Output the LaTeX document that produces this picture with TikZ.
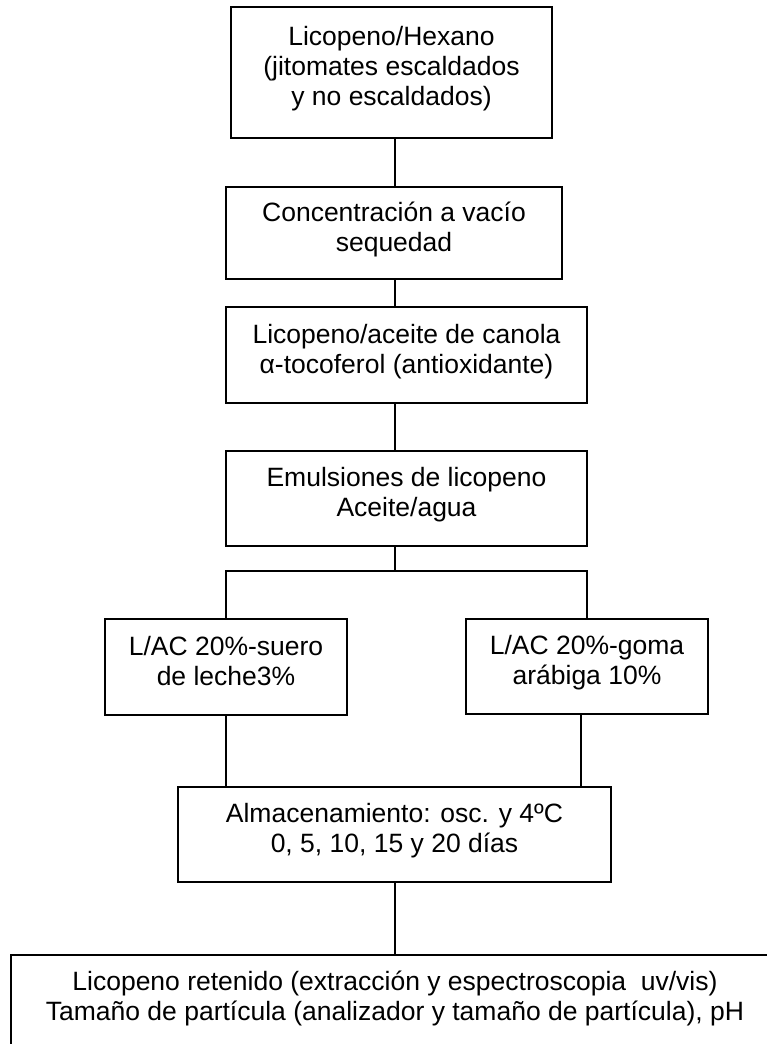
\documentclass[tikz,border=0pt]{standalone}
\usepackage{fontspec}
\setmainfont{Liberation Sans}
% every text row gets the same fixed height/depth so rows sit 30pt apart
\newcommand{\rowstrut}{\rule[-12pt]{0pt}{30pt}}
\newcommand{\rowtext}[1]{\rowstrut\smash{#1}}
\begin{document}
\begin{tikzpicture}[x=1pt,y=-1pt,
  stepbox/.style={draw, line width=1.5pt, inner sep=0pt, align=center,
    font=\fontsize{26.5}{30}\selectfont},
  link/.style={line width=1.2pt}]
\useasboundingbox (0,0) rectangle (767,1044);
\fill[white] (0,0) rectangle (767,1044);
\clip (0,0) rectangle (767,1044);

% guide coordinates for the vertical connectors
\coordinate (spine) at (395,0);
\coordinate (split) at (395,571);
\coordinate (rdrop) at (581,0);

\node[stepbox, minimum width=321pt, minimum height=131pt] (b1) at (391.5,72.5)
  {\rowtext{Licopeno/Hexano}\\ \rowtext{(jitomates escaldados}\\ \rowtext{y no escaldados)}};
\node[stepbox, minimum width=336pt, minimum height=92pt] (b2) at (394,233)
  {\rowtext{Concentración a vacío}\\ \rowtext{sequedad}};
\node[stepbox, minimum width=361pt, minimum height=96pt] (b3) at (406.5,355)
  {\rowtext{Licopeno/aceite de canola}\\ \rowtext{α-tocoferol (antioxidante)}};
\node[stepbox, minimum width=361pt, minimum height=95pt] (b4) at (406.5,498.5)
  {\rowtext{Emulsiones de licopeno}\\ \rowtext{Aceite/agua}};
\node[stepbox, minimum width=242pt, minimum height=96pt] (b5l) at (226,667)
  {\rowtext{L/AC 20\%-suero}\\ \rowtext{de leche3\%}};
\node[stepbox, minimum width=242pt, minimum height=95pt] (b5r) at (587,666.5)
  {\rowtext{L/AC 20\%-goma}\\ \rowtext{arábiga 10\%}};
\node[stepbox, minimum width=433pt, minimum height=95pt] (b6) at (394.5,834.5)
  {\rowtext{Almacenamiento: osc. y 4ºC}\\ \rowtext{0, 5, 10, 15 y 20 días}};
\node[stepbox, minimum width=768pt, minimum height=94pt] (b7) at (395,1002)
  {\rowtext{Licopeno retenido (extracción y espectroscopia~ uv/vis)}\\
   \rowtext{Tamaño de partícula (analizador y tamaño de partícula), pH}};

% connectors
\draw[link] (b1.south -| spine) -- (b2.north -| spine);
\draw[link] (b2.south -| spine) -- (b3.north -| spine);
\draw[link] (b3.south -| spine) -- (b4.north -| spine);
\draw[link] (b4.south -| spine) -- (split);
\draw[link] (b5l.north) |- (split) -| (b5r.north);
\draw[link] (b5l.south) -- (b5l.south |- b6.north);
\draw[link] (b5r.south -| rdrop) -- (b6.north -| rdrop);
\draw[link] (b6.south -| spine) -- (b7.north -| spine);
\end{tikzpicture}
\end{document}
